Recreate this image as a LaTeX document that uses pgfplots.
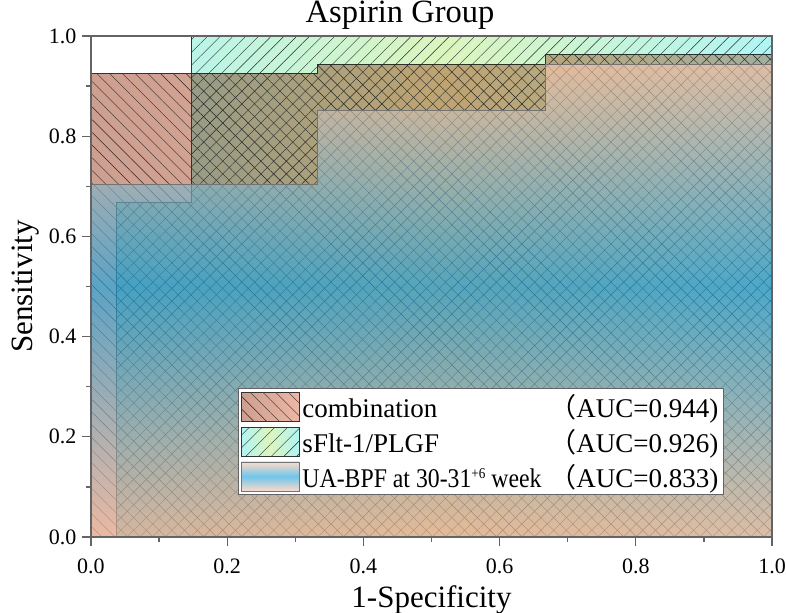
\documentclass[border=0pt]{standalone}
\usepackage{fontspec}
\setmainfont{Liberation Serif}
\newfontfamily\cjk{Noto Sans CJK SC}
\usepackage{pgfplots}
\usepackage{pgfplotstable}
\pgfplotsset{compat=1.18}
\usetikzlibrary{patterns.meta,calc}

\definecolor{cbL}{RGB}{172,95,70}
\definecolor{cbR}{RGB}{225,135,105}
\definecolor{sfC}{RGB}{57,230,230}
\definecolor{sfG}{RGB}{167,230,92}
\definecolor{uaP}{RGB}{252,200,172}
\definecolor{uaB}{RGB}{30,165,225}
\definecolor{axgray}{RGB}{100,100,100}

\pgfdeclareverticalshading{uashade}{100bp}{color(0bp)=(uaP); color(25bp)=(uaP); color(51.5bp)=(uaB); color(75bp)=(uaP); color(100bp)=(uaP)}
\pgfdeclareverticalshading{ualegshade}{100bp}{color(0bp)=(uaP); color(25bp)=(uaP); color(50bp)=(uaB); color(75bp)=(uaP); color(100bp)=(uaP)}
\pgfdeclarehorizontalshading{cbshade}{100bp}{color(0bp)=(cbL); color(25bp)=(cbL); color(75bp)=(cbR); color(100bp)=(cbR)}
\pgfdeclarehorizontalshading{sfshade}{100bp}{color(0bp)=(sfC); color(25bp)=(sfC); color(50bp)=(sfG); color(75bp)=(sfC); color(100bp)=(sfC)}

\newcommand{\tickfont}{\fontsize{22bp}{26bp}\selectfont}
\newcommand{\labfont}{\fontsize{31bp}{36bp}\selectfont}
\newcommand{\titfont}{\fontsize{32.5bp}{38bp}\selectfont}
\newcommand{\legfont}{\fontsize{27bp}{31bp}\selectfont}

\tikzset{
  combofill/.style={draw=none, fill opacity=0.6, shade, shading=cbshade},
  sfltfill/.style={draw=none, fill opacity=0.4, blend mode=multiply, shade, shading=sfshade},
  combopat/.style={draw=black!80, line width=0.9bp, pattern={Lines[angle=-45,distance=9bp,line width=0.42bp]}, pattern color=black!85},
  sfltpat/.style={draw=black!80, line width=0.9bp, pattern={Lines[angle=45,distance=9bp,line width=0.42bp]}, pattern color=black!85},
  uabpf/.style={draw=black!55, line width=0.9bp, fill opacity=0.64, shade, shading=uashade},
  ualeg/.style={draw=black!55, line width=0.9bp, fill opacity=0.64, shade, shading=ualegshade},
}

\pgfplotstableread{
x y
0 0
0 0.926
0.333 0.926
0.333 0.944
0.667 0.944
0.667 0.963
1 0.963
1 0
}\combotab
\pgfplotstableread{
x y
0.037 0
0.037 0.667
0.148 0.667
0.148 1
1 1
1 0
}\sflttab
\pgfplotstableread{
x y
0 0
0 0.704
0.333 0.704
0.333 0.852
0.667 0.852
0.667 0.944
1 0.944
1 0
}\uatab

\begin{document}
\begin{tikzpicture}
\begin{axis}[
  scale only axis, width=681bp, height=501bp,
  xmin=0, xmax=1, ymin=0, ymax=1,
  axis on top,
  axis line style={draw=axgray, line width=1.3bp},
  xtick={0,0.2,0.4,0.6,0.8,1.0}, ytick={0,0.2,0.4,0.6,0.8,1.0},
  minor tick num=1,
  tick align=outside, xtick pos=bottom, ytick pos=left,
  major tick length=9bp, minor tick length=5bp,
  every tick/.style={draw=axgray, line width=1.2bp},
  tick label style={font=\tickfont},
  xticklabel style={yshift=-9bp},
  yticklabel style={xshift=-2bp},
  /pgf/number format/fixed, /pgf/number format/fixed zerofill,
  /pgf/number format/precision=1, /pgf/number format/assume math mode=true,
  xlabel={1-Specificity},
  x label style={font=\labfont, at={(axis description cs:0.5,0)}, anchor=base, yshift=-70bp},
  ylabel={Sensitivity},
  y label style={font=\labfont, at={(axis description cs:-0.0866,0.5)}, anchor=base},
  legend style={at={(axis description cs:0.216,0.084)}, anchor=south west, draw=axgray, line width=1bp,
     fill=white, inner xsep=2bp, inner ysep=3bp, row sep=5bp, font=\legfont,
     nodes={inner xsep=3bp, inner ysep=0bp}},
  legend cell align=left,
]
\addplot[combofill, forget plot] table {\combotab} -- cycle;
\addplot[combopat, forget plot] table {\combotab} -- cycle;
\addplot[sfltfill, forget plot] table {\sflttab} -- cycle;
\addplot[sfltpat, forget plot] table {\sflttab} -- cycle;
\addplot[uabpf, forget plot] table {\uatab} -- cycle;

\addlegendimage{legend image code/.code={\path[combofill] (0bp,-14.5bp) rectangle (58bp,14.5bp); \path[combopat] (0bp,-14.5bp) rectangle (58bp,14.5bp);}}
\addlegendentry{\makebox[247bp][l]{combination}{\cjk （}AUC=0.944)}
\addlegendimage{legend image code/.code={\path[sfltfill] (0bp,-14.5bp) rectangle (58bp,14.5bp); \path[sfltpat] (0bp,-14.5bp) rectangle (58bp,14.5bp);}}
\addlegendentry{\makebox[247bp][l]{sFlt-1/PLGF}{\cjk （}AUC=0.926)}
\addlegendimage{legend image code/.code={\path[ualeg] (0bp,-14.5bp) rectangle (58bp,14.5bp);}}
\addlegendentry{\makebox[247bp][l]{\scalebox{0.88}[1]{UA-BPF at 30-31{\fontsize{15bp}{15bp}\selectfont\raisebox{9bp}{+6}} week}}{\cjk （}AUC=0.833)}

\coordinate (sw) at (rel axis cs:0,0);
\coordinate (ne) at (rel axis cs:1,1);
\end{axis}
\node[font=\titfont, anchor=base, inner sep=0pt] at ($(sw |- ne)+(309bp,13bp)$) {Aspirin Group};
\pgfresetboundingbox
\path[use as bounding box] ($(sw)+(-91bp,-76bp)$) rectangle ($(ne)+(14bp,36bp)$);
\end{tikzpicture}
\end{document}
